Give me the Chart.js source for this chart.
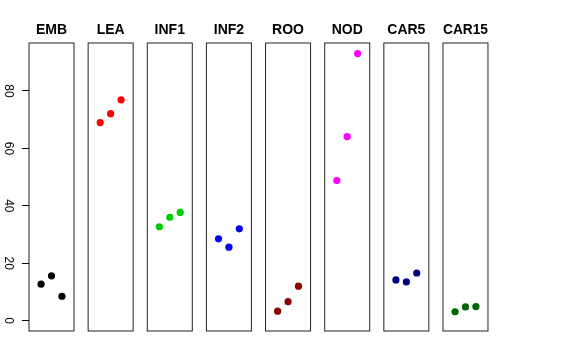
<!DOCTYPE html>
<html>
<head>
<meta charset="utf-8">
<script src="https://cdn.jsdelivr.net/npm/chart.js@4/dist/chart.umd.min.js"></script>
<style>
  html, body { margin: 0; padding: 0; background: #fff; }
  #wrap { position: relative; width: 576px; height: 360px; overflow: hidden; }
  canvas { position: absolute; }
</style>
</head>
<body>
<div id="wrap"></div>
<script>
// ---- data ----
const panelNames = ['EMB', 'LEA', 'INF1', 'INF2', 'ROO', 'NOD', 'CAR5', 'CAR15'];
const replicate = [1, 2, 3];
const EMB   = [12.7, 15.6, 8.5];
const LEA   = [69.0, 72.1, 76.9];
const INF1  = [32.7, 36.0, 37.7];
const INF2  = [28.5, 25.6, 32.0];
const ROO   = [3.3, 6.6, 12.0];
const NOD   = [48.8, 64.1, 93.0];
const CAR5  = [14.2, 13.5, 16.6];
const CAR15 = [3.1, 4.8, 4.9];
const yTickValues = [0, 20, 40, 60, 80];

const seriesValues = [EMB, LEA, INF1, INF2, ROO, NOD, CAR5, CAR15];
const panelColors = ['#000000', '#FF0000', '#00CD00', '#0000FF', '#8B0000', '#FF00FF', '#000080', '#006400'];

// ---- layout ----
const Y_MIN = -3.6, Y_MAX = 96.7;
const X_MIN = -0.16, X_MAX = 4.16;
const FIRST_LEFT = 29, PITCH = 59.14, PANEL_W = 45;
const TOP = 20, PANEL_TOP = 43, PANEL_BOTTOM = 331;
const AXIS_W = 29;

const boxPlugin = {
  id: 'panelBox',
  afterDatasetsDraw(chart) {
    const a = chart.chartArea, ctx = chart.ctx;
    ctx.save();
    ctx.strokeStyle = '#222';
    ctx.lineWidth = 1;
    ctx.strokeRect(a.left, a.top, a.right - a.left, a.bottom - a.top);
    ctx.restore();
  }
};

const wrap = document.getElementById('wrap');
panelNames.forEach((name, i) => {
  const first = i === 0;
  const left = FIRST_LEFT + i * PITCH;
  const cv = document.createElement('canvas');
  const cLeft = first ? 0 : Math.round(left) - 4;
  const cWidth = first ? AXIS_W + PANEL_W + 2 : PANEL_W + 8;
  const cHeight = PANEL_BOTTOM - TOP + 2;
  cv.width = cWidth; cv.height = cHeight;
  cv.style.left = cLeft + 'px';
  cv.style.top = TOP + 'px';
  cv.style.width = cWidth + 'px';
  cv.style.height = cHeight + 'px';
  wrap.appendChild(cv);

  const yScale = {
    type: 'linear', min: Y_MIN, max: Y_MAX,
    display: first
  };
  if (first) {
    Object.assign(yScale, {
      afterFit: (s) => { s.width = AXIS_W; s.paddingTop = 0; s.paddingBottom = 0; },
      afterBuildTicks: (s) => { s.ticks = yTickValues.map(v => ({ value: v })); },
      border: { display: false },
      grid: { drawOnChartArea: false, drawTicks: true, tickLength: 7, color: '#000', lineWidth: 1 },
      ticks: {
        color: '#000',
        minRotation: -90, maxRotation: -90,
        crossAlign: 'center',
        padding: 7,
        font: { family: 'Liberation Sans, Arial, sans-serif', size: 12 }
      }
    });
  }

  const padLeft = first ? 0 : (left - cLeft);
  const padRight = first ? 2 : (cWidth - padLeft - PANEL_W);

  new Chart(cv, {
    type: 'scatter',
    data: {
      datasets: [{
        data: replicate.map((x, k) => ({ x: x, y: seriesValues[i][k] })),
        backgroundColor: panelColors[i],
        borderWidth: 0,
        pointRadius: 3.6,
        pointHoverRadius: 3.6
      }]
    },
    options: {
      responsive: false,
      animation: false,
      devicePixelRatio: 1,
      layout: {
        autoPadding: false,
        padding: { left: padLeft, right: padRight, top: 0, bottom: 2 }
      },
      plugins: {
        legend: { display: false },
        tooltip: { enabled: false },
        title: {
          display: true,
          fullSize: !first,
          text: name,
          color: '#000',
          font: { family: 'Liberation Sans, Arial, sans-serif', size: 14, weight: 'bold' },
          padding: { top: 2, bottom: 4.2 }
        }
      },
      scales: {
        x: { type: 'linear', min: X_MIN, max: X_MAX, display: false },
        y: yScale
      }
    },
    plugins: [boxPlugin]
  });
});
</script>
</body>
</html>
